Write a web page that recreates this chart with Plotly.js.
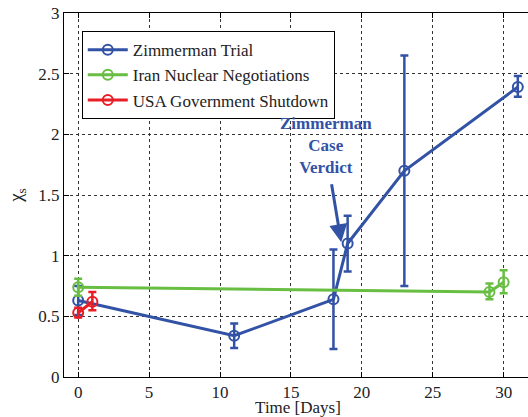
<!DOCTYPE html>
<html><head><meta charset="utf-8">
<script src="https://cdn.plot.ly/plotly-3.0.1.min.js"></script>
<style>html,body{margin:0;padding:0;overflow:hidden;background:#fff;width:528px;height:417px}</style>
</head><body>
<div id="chart" style="width:532px;height:417px"></div>
<script>
// Zimmerman Trial
const zimX = [0, 11, 18, 19, 23, 31];
const zimY = [0.63, 0.34, 0.64, 1.10, 1.70, 2.39];
const zimErrPlus = [0.12, 0.10, 0.41, 0.23, 0.95, 0.09];
const zimErrMinus = [0.12, 0.10, 0.41, 0.23, 0.95, 0.08];
// Iran Nuclear Negotiations
const iranX = [0, 29, 30];
const iranY = [0.74, 0.70, 0.78];
const iranErrPlus = [0.07, 0.07, 0.10];
const iranErrMinus = [0.07, 0.06, 0.09];
// USA Government Shutdown
const usaX = [0, 1];
const usaY = [0.53, 0.62];
const usaErrPlus = [0.04, 0.08];
const usaErrMinus = [0.04, 0.07];
const xTicks = [0, 5, 10, 15, 20, 25, 30];
const yTicks = [0, 0.5, 1, 1.5, 2, 2.5, 3];

const BLUE = 'rgb(50,82,165)';
const GREEN = 'rgb(104,190,66)';
const RED = 'rgb(232,30,38)';
const FONT = 'Liberation Serif';

function series(name, x, y, ep, em, color) {
  return {
    type: 'scatter', mode: 'lines+markers', name: name, x: x, y: y,
    line: {color: color, width: 3},
    marker: {symbol: 'circle-open', size: 10, color: color, line: {width: 2, color: color}},
    error_y: {type: 'data', symmetric: false, array: ep, arrayminus: em,
              color: color, thickness: 2.5, width: 4}
  };
}

const data = [
  series('Zimmerman Trial', zimX, zimY, zimErrPlus, zimErrMinus, BLUE),
  series('Iran Nuclear Negotiations', iranX, iranY, iranErrPlus, iranErrMinus, GREEN),
  series('USA Government Shutdown', usaX, usaY, usaErrPlus, usaErrMinus, RED)
];

const axisCommon = {
  showline: true, linecolor: '#000', linewidth: 1, mirror: 'ticks',
  ticks: 'inside', ticklen: 5, tickcolor: '#000',
  showgrid: true, gridcolor: '#333', griddash: 'dot', gridwidth: 1,
  zeroline: false, tickfont: {family: FONT, size: 17, color: '#222'}
};

const layout = {
  width: 532, height: 417,
  margin: {l: 64, r: 0, t: 13, b: 40},
  paper_bgcolor: '#fff', plot_bgcolor: '#fff',
  font: {family: FONT, color: '#222'},
  xaxis: Object.assign({}, axisCommon, {
    range: [-1, 32], tickvals: xTicks, ticktext: xTicks.map(String),
    title: {text: 'Time [Days]', font: {family: FONT, size: 17, color: '#222'}, standoff: 2}
  }),
  yaxis: Object.assign({}, axisCommon, {
    range: [0, 3], tickvals: yTicks, ticktext: yTicks.map(String),
    title: {text: 'χ<sub>s</sub>', font: {family: FONT, size: 19, color: '#222'}, standoff: 10}
  }),
  showlegend: true,
  legend: {
    x: 0.038, y: 0.95, xanchor: 'left', yanchor: 'top',
    bgcolor: '#fff', bordercolor: '#000', borderwidth: 1,
    font: {family: FONT, size: 17, color: '#222'},
    tracegroupgap: 0, itemwidth: 40
  },
  annotations: [
    {x: 17.5, y: 1.91, xref: 'x', yref: 'y', text: '<b>Zimmerman<br>Case<br>Verdict</b>',
     showarrow: false, xanchor: 'center', yanchor: 'middle',
     font: {family: FONT, size: 17, color: BLUE}, align: 'center'},
    {x: 18.55, y: 1.11, ax: 17.85, ay: 1.60, xref: 'x', yref: 'y', axref: 'x', ayref: 'y',
     text: '', showarrow: true, arrowhead: 2, arrowsize: 1.2, arrowwidth: 3, arrowcolor: BLUE}
  ]
};

Plotly.newPlot('chart', data, layout, {displayModeBar: false, staticPlot: true});
</script>
</body></html>
